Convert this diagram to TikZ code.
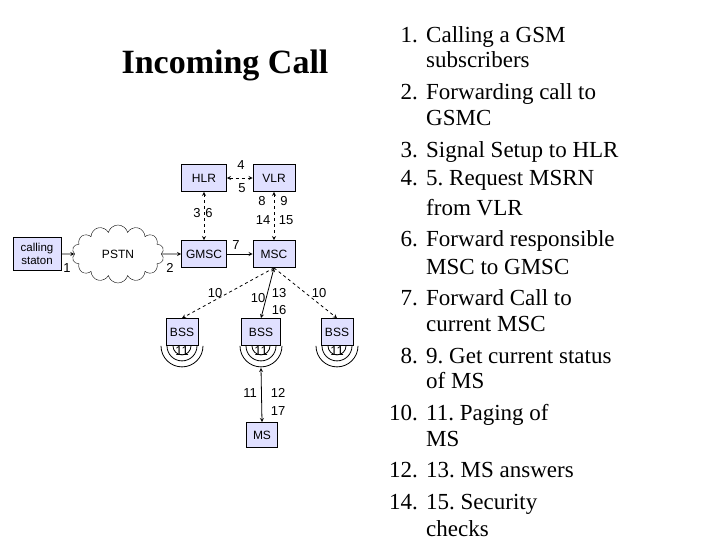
\documentclass[tikz,border=0pt]{standalone}
\usepackage{fontspec}
\setmainfont{Liberation Serif}
\setsansfont{Liberation Sans}
\usetikzlibrary{shapes.symbols, arrows, calc}
\tikzstyle{unit} = [rectangle, draw=black, thick, fill=blue!12, minimum width=45pt, minimum height=27pt, font=\sffamily\fontsize{12}{13}\selectfont, inner sep=1pt]
\tikzstyle{num} = [font=\sffamily\fontsize{13}{14}\selectfont, inner sep=0pt]
\tikzstyle{arrow} = [thick,->,>=stealth]
\tikzstyle{both} = [thick,<->,>=stealth]
\tikzstyle{link} = [thick,dashed,<->,>=stealth]
\tikzstyle{item} = [anchor=base west, inner sep=0pt, font=\fontsize{23}{24}\selectfont]
\tikzstyle{nr} = [anchor=base east, inner sep=0pt, font=\fontsize{23}{24}\selectfont]

\begin{document}
\frenchspacing
\begin{tikzpicture}[x=1pt, y=-1pt]
\useasboundingbox (0,0) rectangle (720,540);

%% TITLE

\node (title) at (225,65) {\bfseries\fontsize{34}{36}\selectfont Incoming Call};

%% NODES

\node (cs) [unit, minimum width=48pt, minimum height=33pt, align=center, font=\sffamily\fontsize{11.5}{13}\selectfont] at (37,254) {calling\\staton};
\node (pstn) [cloud, draw, cloud puffs=14, aspect=1.7, minimum width=92pt, minimum height=58pt, font=\sffamily\fontsize{12}{13}\selectfont] at (118,254) {PSTN};
\node (hlr) [unit] at (204,178) {HLR};
\node (vlr) [unit, minimum width=42pt] at (274,178) {VLR};
\node (gmsc) [unit] at (204,254) {GMSC};
\node (msc) [unit, minimum width=42pt] at (274,254) {MSC};
\node (bss1) [unit, minimum width=32pt] at (182,332) {BSS};
\node (bss2) [unit, minimum width=39pt] at (261,332) {BSS};
\node (bss3) [unit, minimum width=32pt] at (337,332) {BSS};
\node (ms) [unit, minimum width=31pt, minimum height=25pt] at (262,435) {MS};

%% WAVES

\foreach \b in {bss1,bss2,bss3}{
  \foreach \r in {9,15,21}{
    \draw [thick] ($(\b.south)+(-\r,0)$) arc[start angle=180, end angle=0, radius=\r];
  }
}
\coordinate (w2) at ($(bss2.south)+(0,22)$);

%% ARROWS

\draw [arrow] (cs) -- (pstn);
\draw [arrow] (pstn) -- (gmsc);
\draw [arrow] (gmsc) -- (msc);
\draw [link] (hlr) -- (vlr);
\draw [link] (hlr) -- (gmsc);
\draw [link] (vlr) -- (msc);
\draw [thick,dashed,->,>=stealth] (msc.south) -- (bss1.north);
\draw [thick,dashed,->,>=stealth] (msc.south) -- (bss3.north);
\draw [both] (msc.south) -- (bss2.north);
\draw [both] (w2) -- (ms.north);

%% NUMBERS

\node [num] at (67,268) {1};
\node [num] at (170,268) {2};
\node [num] at (197,213) {3};
\node [num] at (209,213) {6};
\node [num] at (241,165) {4};
\node [num] at (242,188) {5};
\node [num] at (236,245) {7};
\node [num] at (262,201) {8};
\node [num] at (284,201) {9};
\node [num] at (263,220) {14};
\node [num] at (286,220) {15};
\node [num] at (215,293) {10};
\node [num] at (258,298) {10};
\node [num] at (279,293) {13};
\node [num] at (279,310) {16};
\node [num] at (319,293) {10};
\foreach \x in {182,261,337}{ \node [num] at (\x,351) {11}; }
\node [num] at (250,393) {11};
\node [num] at (278,393) {12};
\node [num] at (278,411) {17};

%% LIST

\foreach \n/\y in {1./43, 2./100, 3./158, 4./186, 6./246, 7./305, 8./363, 10./420, 12./477, 14./509}{
  \node [nr] at (418,\y) {\n};
}
\foreach \t/\y in {Calling a GSM/43, Forwarding call to/100, Signal Setup to HLR/158, 5. Request MSRN/186, Forward responsible/246, Forward Call to/305, 9. Get current status/363, 11. Paging of/420, 13. MS answers/477, 15. Security/509}{
  \node [item] at (426,\y) {\t};
}
\foreach \t/\y in {subscribers/68, GSMC/126, from VLR/215, MSC to GMSC/274, current MSC/331, of MS/388, MS/446, checks/536}{
  \node [item] at (426,\y) {\t};
}

\end{tikzpicture}
\end{document}
